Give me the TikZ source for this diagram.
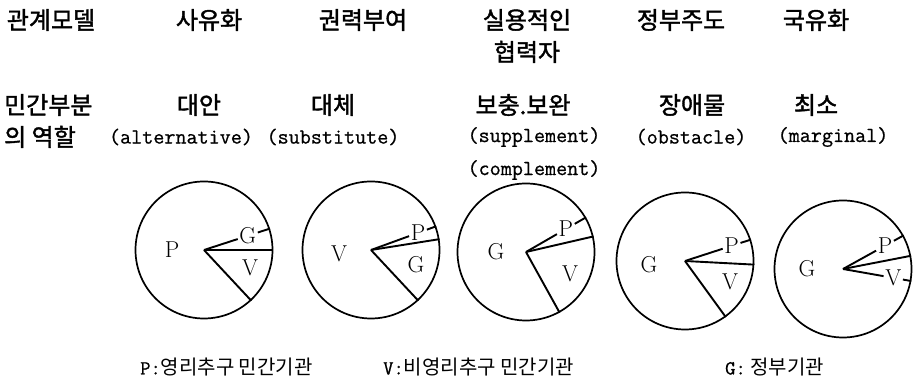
\documentclass[tikz,border=0pt]{standalone}
\usepackage{fontspec}
\usepackage{tikz}
\usetikzlibrary{calc}
\newfontfamily\korfont{Noto Sans CJK KR}
\newfontfamily\korbold{Noto Sans CJK KR}[FakeBold=1.6]
\newfontfamily\engfont{Latin Modern Mono}[FakeBold=0.8]
\tikzset{
  pie/.style={draw,circle,line width=1.7pt,minimum size=137pt,inner sep=0pt},
  pieline/.style={line width=1.9pt},
  pielbl/.style={font=\fontsize{23}{23}\selectfont,inner sep=1.5pt},
  hdr/.style={font=\korbold\fontsize{24}{32}\selectfont,inner sep=0pt,align=center},
  eng/.style={font=\engfont\fontsize{21.5}{33}\selectfont,inner sep=0pt,align=center},
  legend/.style={font=\korfont\fontsize{20}{20}\selectfont,inner sep=0pt,anchor=west},
}

\begin{document}
\begin{tikzpicture}[x=1pt,y=1pt]
  \useasboundingbox (0,0) rectangle (921,387);
  % relation models
  \node[hdr] (h0) at (51,367)  {관계모델};
  \node[hdr] (h1) at (209,367) {사유화};
  \node[hdr] (h2) at (363,367) {권력부여};
  \node[hdr] (h3) at (527,351) {실용적인\\협력자};
  \node[hdr] (h4) at (681,367) {정부주도};
  \node[hdr] (h5) at (816,367) {국유화};

  % role of the private sector
  \node[hdr,align=left,anchor=west] (r0) at (4,266) {민간부분\\의 역할};
  \node[hdr] (r1) at (199,282) {대안};
  \node[eng] (e1) at (181,250) {(alternative)};
  \node[hdr] (r2) at (333,282) {대체};
  \node[eng] (e2) at (333,250) {(substitute)};
  \node[hdr] (r3) at (523,282) {보충.보완};
  \node[eng] (e3) at (534,233.5) {(supplement)\\(complement)};
  \node[hdr] (r4) at (692,282) {장애물};
  \node[eng] (e4) at (691,250) {(obstacle)};
  \node[hdr] (r5) at (816,282) {최소};
  \node[eng] (e5) at (833,250) {(marginal)};

  % pies
  \node[pie] (c1) at (204,137) {};
  \node[pie] (c2) at (371,137) {};
  \node[pie] (c3) at (526,135) {};
  \node[pie] (c4) at (685,126) {};
  \node[pie] (c5) at (843,118) {};

  \node[pielbl] (c1p) at ($(c1)+(-32,0)$)   {P};
  \node[pielbl] (c1v) at ($(c1)+(46,-18)$)  {V};
  \node[pielbl] (c1g) at ($(c1)+(18:46)$)   {G};
  \node[pielbl] (c2v) at ($(c2)+(-32,-4)$)  {V};
  \node[pielbl] (c2g) at ($(c2)+(45,-15)$)  {G};
  \node[pielbl] (c2p) at ($(c2)+(20:50)$)   {P};
  \node[pielbl] (c3g) at ($(c3)+(-30,0)$)   {G};
  \node[pielbl] (c3v) at ($(c3)+(44,-22)$)  {V};
  \node[pielbl] (c3p) at ($(c3)+(30:46)$)   {P};
  \node[pielbl] (c4g) at ($(c4)+(-36,-4)$)  {G};
  \node[pielbl] (c4v) at ($(c4)+(45,-21)$)  {V};
  \node[pielbl] (c4p) at ($(c4)+(18:49)$)   {P};
  \node[pielbl] (c5g) at ($(c5)+(-36,0)$)   {G};
  \node[pielbl] (c5p) at ($(c5)+(29:48)$)   {P};
  \node[pielbl] (c5v) at ($(c5)+(350:51)$)  {V};

  \foreach \c/\a in {c1/0,c1/313,c2/9,c2/313,c3/13,c3/299,c4/357,c4/306,c5/11}{\draw[pieline] (\c.center)--(\c.\a);}
  \foreach \c/\l/\a in {c1/c1g/18,c2/c2p/20,c3/c3p/30,c4/c4p/18,c5/c5p/29,c5/c5v/350}{\draw[pieline] (\c.center)--(\l)--(\c.\a);}

  % legend
  \node[legend] (kp) at (140,20) {{\engfont P:}영리추구 민간기관};
  \node[legend] (kv) at (383,20) {{\engfont V:}비영리추구 민간기관};
  \node[legend] (kg) at (725,20) {{\engfont G:} 정부기관};
\end{tikzpicture}
\end{document}
